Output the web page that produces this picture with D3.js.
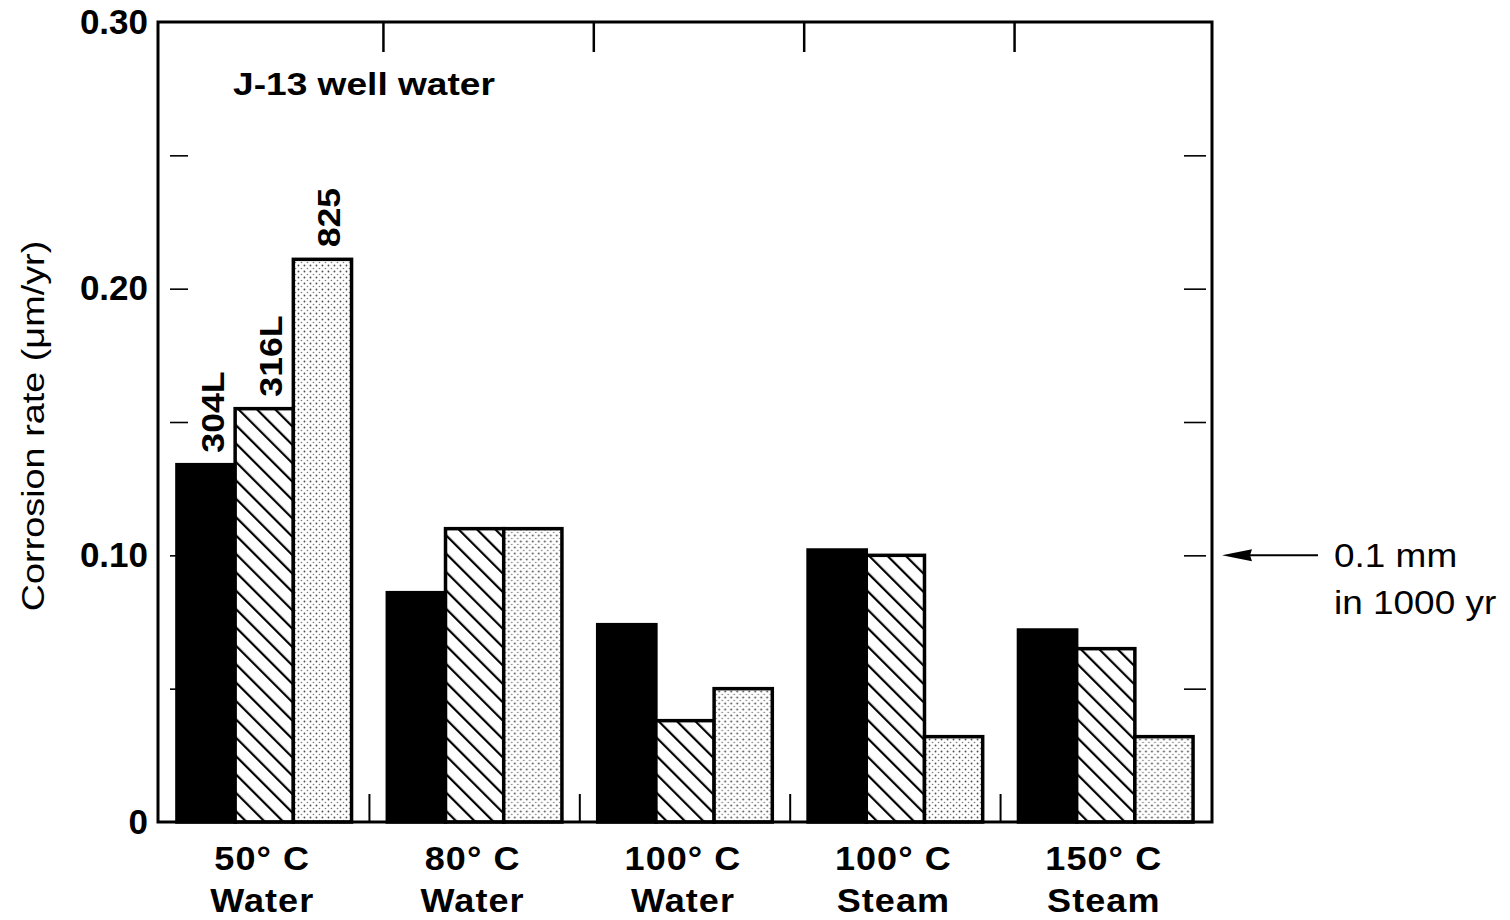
<!DOCTYPE html>
<html>
<head>
<meta charset="utf-8">
<script src="https://cdn.jsdelivr.net/npm/d3@7"></script>
<style>
  html, body { margin: 0; padding: 0; background: #fff; }
  svg { display: block; font-family: "Liberation Sans", Arial, Helvetica, sans-serif; }
</style>
</head>
<body>
<svg id="chart" width="1510" height="920"></svg>
<script>
// ---- data ----
const categories = ["50° C|Water", "80° C|Water", "100° C|Water", "100° C|Steam", "150° C|Steam"];
const series = ["304L", "316L", "825"];
const values304L = [0.134, 0.086, 0.074, 0.102, 0.072];
const values316L = [0.155, 0.110, 0.038, 0.100, 0.065];
const values825  = [0.211, 0.110, 0.050, 0.032, 0.032];
const majorTicks = [0, 0.10, 0.20, 0.30];
const majorTickLabels = ["0", "0.10", "0.20", "0.30"];
const minorTicks = [0.05, 0.10, 0.15, 0.20, 0.25];
const yTitle = "Corrosion rate (μm/yr)";
const panelLabel = "J-13 well water";
const annotationLines = ["0.1 mm", "in 1000 yr"];
const annotationValue = 0.10;

const seriesValues = [values304L, values316L, values825];

// ---- layout ----
const svg = d3.select("#chart");
const L = 158, R = 1212, T = 22, B = 822;

const y = d3.scaleLinear().domain([0, 0.30]).range([B, T]);
const x0 = d3.scaleBand().domain(categories).range([L, R]).paddingInner(0.17).paddingOuter(0.09);
const x1 = d3.scaleBand().domain(series).range([0, x0.bandwidth()]).padding(0);

// ---- patterns ----
const defs = svg.append("defs");
const hs = 13;
const hatch = defs.append("pattern")
  .attr("id", "hatch").attr("patternUnits", "userSpaceOnUse")
  .attr("width", hs).attr("height", hs)
  .attr("patternTransform", "rotate(-45)");
hatch.append("rect").attr("width", hs).attr("height", hs).attr("fill", "#fff");
hatch.append("line").attr("x1", 0).attr("y1", 0).attr("x2", 0).attr("y2", hs)
  .attr("stroke", "#000").attr("stroke-width", 4.4);

const dots = defs.append("pattern")
  .attr("id", "dots").attr("patternUnits", "userSpaceOnUse")
  .attr("width", 6).attr("height", 6);
dots.append("rect").attr("width", 6).attr("height", 6).attr("fill", "#fff");
dots.append("circle").attr("cx", 1.5).attr("cy", 1.5).attr("r", 0.9).attr("fill", "#444");
dots.append("circle").attr("cx", 4.5).attr("cy", 4.5).attr("r", 0.8).attr("fill", "#777");

const fills = { "304L": "#000", "316L": "url(#hatch)", "825": "url(#dots)" };

// ---- bars ----
const rows = categories.map((c, i) => ({ cat: c, vals: series.map((s, j) => ({ s, v: seriesValues[j][i] })) }));
const groups = svg.append("g").selectAll("g").data(rows).join("g")
  .attr("transform", d => `translate(${x0(d.cat)},0)`);
groups.selectAll("rect").data(d => d.vals).join("rect")
  .attr("x", d => x1(d.s))
  .attr("y", d => y(d.v))
  .attr("width", x1.bandwidth())
  .attr("height", d => y(0) - y(d.v))
  .attr("fill", d => fills[d.s])
  .attr("stroke", "#000")
  .attr("stroke-width", 3.5);

// series labels above first group
const first = rows[0];
svg.append("g").selectAll("text").data(first.vals).join("text")
  .attr("transform", d => `translate(${x0(first.cat) + x1(d.s) + x1.bandwidth() / 2 + 18},${y(d.v) - 12}) rotate(-90) scale(1.15,1)`)
  .attr("font-size", 31).attr("font-weight", "bold")
  .attr("text-anchor", "start")
  .text(d => d.s);

// ---- frame ----
svg.append("rect").attr("x", L).attr("y", T).attr("width", R - L).attr("height", B - T)
  .attr("fill", "none").attr("stroke", "#000").attr("stroke-width", 3);

// separator ticks (top & bottom)
const seps = categories.slice(1).map(c => x0(c) - x0.step() * x0.paddingInner() / 2);
svg.append("g").selectAll("line").data(seps).join("line")
  .attr("x1", d => d + 14).attr("x2", d => d + 14).attr("y1", T).attr("y2", T + 30)
  .attr("stroke", "#000").attr("stroke-width", 2.5);
svg.append("g").selectAll("line").data(seps).join("line")
  .attr("x1", d => d).attr("x2", d => d).attr("y1", B).attr("y2", B - 28)
  .attr("stroke", "#000").attr("stroke-width", 2);

// y minor ticks, left and right
const yAxisL = d3.axisRight(y).tickValues(minorTicks).tickSize(18).tickFormat("");
const yAxisR = d3.axisLeft(y).tickValues(minorTicks).tickSize(22).tickFormat("");
const gl = svg.append("g").attr("transform", `translate(${L + 12},0)`).call(yAxisL);
const gr = svg.append("g").attr("transform", `translate(${R - 6},0)`).call(yAxisR);
[gl, gr].forEach(g => { g.select(".domain").remove(); g.selectAll("line").attr("stroke", "#000").attr("stroke-width", 1.6); });

// y labels
const yLab = d3.axisLeft(y).tickValues(majorTicks).tickSize(0).tickPadding(10)
  .tickFormat((d, i) => majorTickLabels[i]);
const gy = svg.append("g").attr("transform", `translate(${L},0)`).call(yLab);
gy.select(".domain").remove();
gy.selectAll("text").attr("font-size", 35).attr("font-weight", "bold")
  .attr("font-family", "Liberation Sans, Arial, sans-serif").attr("fill", "#000");

// y title
svg.append("text")
  .attr("transform", `translate(44,${(T + B) / 2 + 4}) rotate(-90) scale(1.22,1)`)
  .attr("text-anchor", "middle").attr("font-size", 31)
  .text(yTitle);

// x labels
const xg = svg.append("g").selectAll("g").data(categories).join("g")
  .attr("transform", d => `translate(${x0(d) + x0.bandwidth() / 2 - 2},0) scale(1.06,1)`);
xg.append("text").attr("y", 870).attr("text-anchor", "middle").attr("font-size", 34)
  .attr("font-weight", "bold").attr("letter-spacing", 1).text(d => d.split("|")[0]);
xg.append("text").attr("y", 912).attr("text-anchor", "middle").attr("font-size", 34)
  .attr("font-weight", "bold").attr("letter-spacing", 1).text(d => d.split("|")[1]);

// panel label
svg.append("text").attr("transform", "translate(233,95) scale(1.16,1)")
  .attr("font-size", 32).attr("font-weight", "bold")
  .text(panelLabel);

// annotation arrow
const ay = y(annotationValue);
svg.append("line").attr("x1", 1318).attr("x2", 1245).attr("y1", ay).attr("y2", ay)
  .attr("stroke", "#000").attr("stroke-width", 2);
svg.append("path").attr("d", `M1222,${ay} L1252,${ay - 6} L1250,${ay} L1252,${ay + 6} Z`).attr("fill", "#000");
svg.append("g").selectAll("text").data(annotationLines).join("text")
  .attr("transform", (d, i) => `translate(1334,${ay + 12 + i * 47}) scale(1.12,1)`)
  .attr("font-size", 33).text(d => d);
</script>
</body>
</html>
